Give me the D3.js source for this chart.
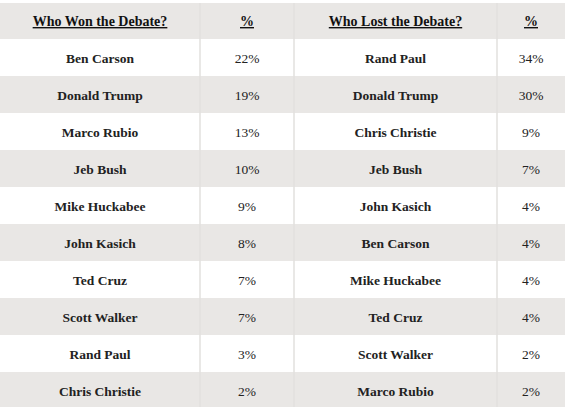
<!DOCTYPE html>
<html><head><meta charset="utf-8">
<script src="https://cdn.jsdelivr.net/npm/d3@7"></script>
<style>body{margin:0;background:#fff}</style>
</head><body><svg id="c" width="565" height="407"></svg>
<script>
var headers = ["Who Won the Debate?", "%", "Who Lost the Debate?", "%"];
var wonNames = ["Ben Carson","Donald Trump","Marco Rubio","Jeb Bush","Mike Huckabee","John Kasich","Ted Cruz","Scott Walker","Rand Paul","Chris Christie"];
var wonPct = [22,19,13,10,9,8,7,7,3,2];
var lostNames = ["Rand Paul","Donald Trump","Chris Christie","Jeb Bush","John Kasich","Ben Carson","Mike Huckabee","Ted Cruz","Scott Walker","Marco Rubio"];
var lostPct = [34,30,9,7,4,4,4,4,2,2];

var svg = d3.select("#c");
var colEdges = [0, 200, 294, 497, 565];
var headTop = 3, headH = 36, rowH = 37;
var y = d3.scaleBand().domain(d3.range(wonNames.length)).range([headTop + headH, headTop + headH + rowH * wonNames.length]);
var grey = "#e9e7e5", font = "'Liberation Serif','DejaVu Serif',serif";

// header
svg.append("rect").attr("x", 0).attr("y", headTop).attr("width", 565).attr("height", headH).attr("fill", grey);
svg.selectAll(".h").data(headers).enter().append("text")
  .attr("x", (d, i) => (colEdges[i] + colEdges[i + 1]) / 2)
  .attr("y", headTop + headH / 2 + 5)
  .attr("text-anchor", "middle").attr("font-family", font).attr("font-size", 14)
  .attr("font-weight", "bold").attr("text-decoration", "underline").attr("fill", "#111")
  .text(d => d);

// body rows
var rows = svg.selectAll(".r").data(d3.range(wonNames.length)).enter().append("g")
  .attr("transform", i => "translate(0," + y(i) + ")");
rows.append("rect").attr("width", 565).attr("height", rowH).attr("fill", i => i % 2 ? grey : "#fff");
var cells = [
  i => wonNames[i], i => wonPct[i] + "%", i => lostNames[i], i => lostPct[i] + "%"
];
cells.forEach((f, c) => {
  rows.append("text")
    .attr("x", (colEdges[c] + colEdges[c + 1]) / 2)
    .attr("y", rowH / 2 + 5)
    .attr("text-anchor", "middle").attr("font-family", font).attr("font-size", 13.5)
    .attr("font-weight", c % 2 ? "normal" : "bold").attr("fill", "#222")
    .text(f);
});

// column separators
svg.selectAll(".v").data(colEdges.slice(1, 4)).enter().append("line")
  .attr("x1", d => d).attr("x2", d => d).attr("y1", headTop).attr("y2", 407)
  .attr("stroke", "#e2e0de").attr("stroke-width", 1.5);
</script></body></html>
